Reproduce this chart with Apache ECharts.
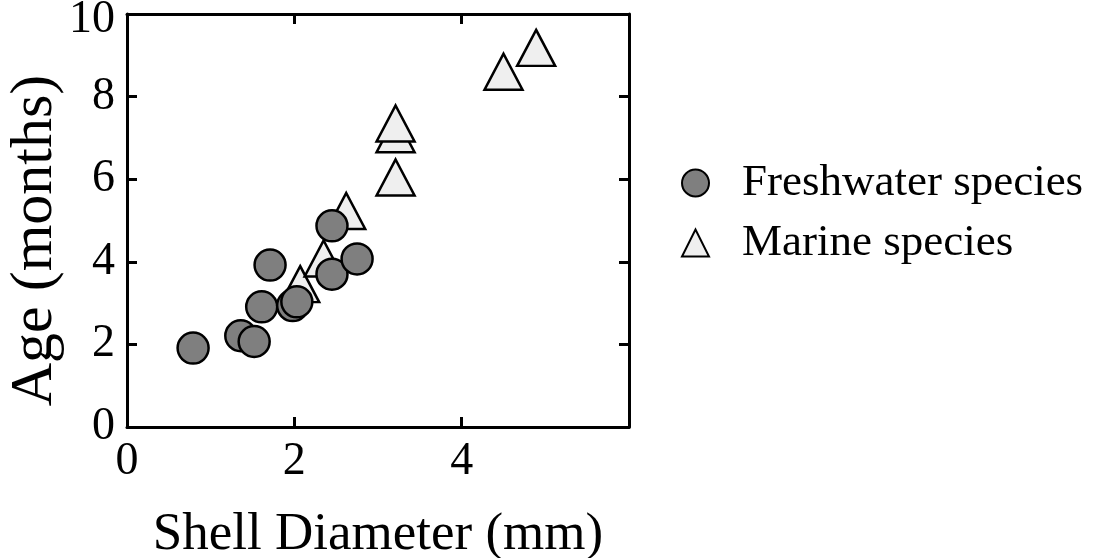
<!DOCTYPE html>
<html>
<head>
<meta charset="utf-8">
<script src="https://cdn.jsdelivr.net/npm/echarts@6/dist/echarts.min.js"></script>
<style>html,body{margin:0;padding:0;background:#fff}#c{width:1094px;height:558px}</style>
</head>
<body>
<div id="c"></div>
<script>
const seriesNames = ['Freshwater species', 'Marine species'];
const freshwaterX = [0.79, 1.36, 1.52, 1.61, 1.71, 1.98, 2.03, 2.45, 2.45, 2.75];
const freshwaterY = [1.91, 2.21, 2.07, 2.91, 3.92, 2.94, 3.03, 4.87, 3.70, 4.07];
const marineX = [2.07, 2.35, 2.62, 3.21, 3.21, 3.21, 4.50, 4.89];
const marineY = [3.46, 4.08, 5.23, 6.04, 7.09, 7.35, 8.60, 9.18];
const xTickLabels = ['0', '2', '4', ''];
const yTickLabels = ['0', '2', '4', '6', '8', '10'];

const FONT = 'Liberation Serif';
const pairs = (xs, ys) => xs.map((x, i) => [x, ys[i]]);

const chart = echarts.init(document.getElementById('c'), null, {renderer: 'canvas'});
const axisLineStyle = {color: '#000', width: 3};
const tickStyle = {color: '#000', width: 3};

chart.setOption({
  animation: false,
  backgroundColor: '#fff',
  grid: {left: 127, top: 14, right: 465, bottom: 131, containLabel: false, outerBoundsMode: 'none'},
  legend: {
    orient: 'vertical',
    left: 676,
    top: 155,
    itemWidth: 27,
    itemHeight: 27,
    itemGap: 14,
    data: seriesNames,
    textStyle: {fontFamily: FONT, fontSize: 45, color: '#000', lineHeight: 46, padding: [0, 0, 0, 28]}
  },
  xAxis: [{
    type: 'value', min: 0, max: 6, interval: 2, position: 'bottom',
    name: 'Shell Diameter (mm)', nameLocation: 'middle', nameGap: 82,
    nameTextStyle: {fontFamily: FONT, fontSize: 53, color: '#000'},
    axisLine: {show: true, onZero: false, lineStyle: axisLineStyle},
    axisTick: {show: true, inside: true, length: 10, lineStyle: tickStyle},
    axisLabel: {fontFamily: FONT, fontSize: 46, color: '#000', margin: 12,
      formatter: v => xTickLabels[Math.round(v / 2)] ?? ''},
    splitLine: {show: false}
  }, {
    type: 'value', min: 0, max: 6, interval: 2, position: 'top',
    axisLine: {show: true, onZero: false, lineStyle: axisLineStyle},
    axisTick: {show: true, inside: true, length: 10, lineStyle: tickStyle},
    axisLabel: {show: false}, splitLine: {show: false}
  }],
  yAxis: [{
    type: 'value', min: 0, max: 10, interval: 2, position: 'left',
    name: 'Age (months)', nameLocation: 'middle', nameGap: 58,
    nameTextStyle: {fontFamily: FONT, fontSize: 60, color: '#000', padding: [0, 40, 0, 0]},
    axisLine: {show: true, onZero: false, lineStyle: axisLineStyle},
    axisTick: {show: true, inside: true, length: 10, lineStyle: tickStyle},
    axisLabel: {fontFamily: FONT, fontSize: 46, color: '#000', margin: 12,
      formatter: v => {
        const i = Math.round(v / 2);
        const t = yTickLabels[i] ?? '';
        return i === yTickLabels.length - 1 ? '{top|' + t + '}' : t;
      },
      rich: {top: {fontFamily: FONT, fontSize: 46, color: '#000', padding: [12, 0, 0, 0]}}},
    splitLine: {show: false}
  }, {
    type: 'value', min: 0, max: 10, interval: 2, position: 'right',
    axisLine: {show: true, onZero: false, lineStyle: axisLineStyle},
    axisTick: {show: true, inside: true, length: 10, lineStyle: tickStyle},
    axisLabel: {show: false}, splitLine: {show: false}
  }],
  series: [{
    name: seriesNames[0], type: 'scatter', xAxisIndex: 0, yAxisIndex: 0, z: 3,
    symbol: 'circle', symbolSize: 31,
    itemStyle: {color: '#7f7f7f', borderColor: '#000', borderWidth: 2.5, opacity: 1},
    data: pairs(freshwaterX, freshwaterY)
  }, {
    name: seriesNames[1], type: 'scatter', xAxisIndex: 0, yAxisIndex: 0, z: 2,
    symbol: 'triangle', symbolSize: [38, 36],
    itemStyle: {color: '#efefef', borderColor: '#000', borderWidth: 2.5, opacity: 1},
    data: pairs(marineX, marineY)
  }]
});
</script>
</body>
</html>
